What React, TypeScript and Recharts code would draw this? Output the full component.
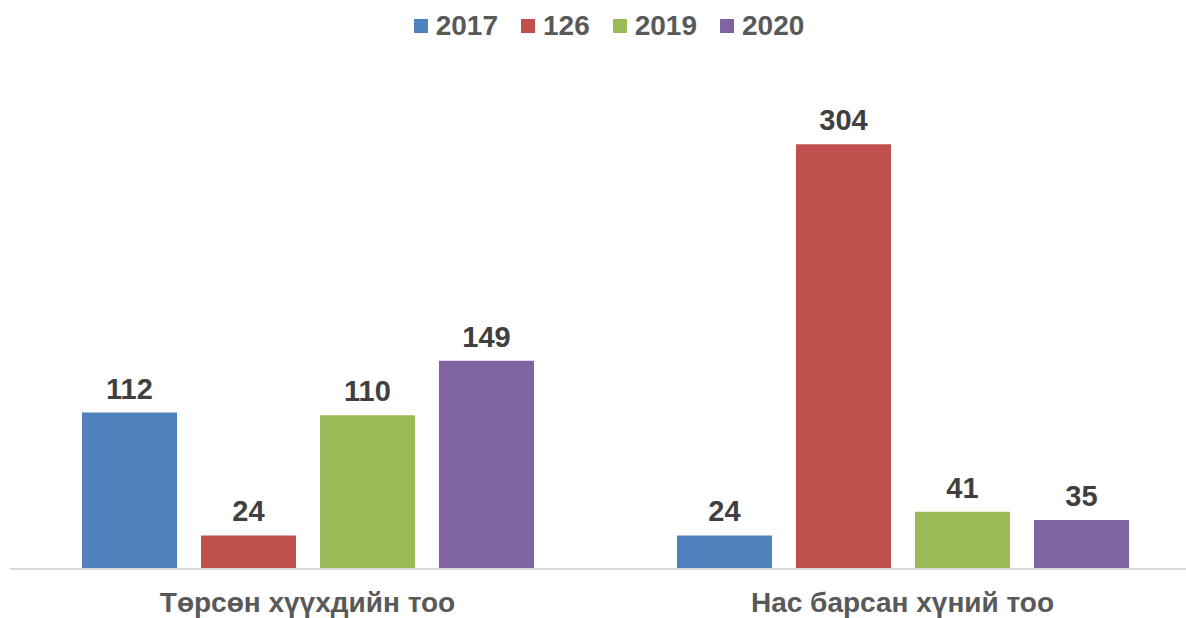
import { Bar, BarChart, LabelList, Legend, XAxis, YAxis } from 'recharts';

const categories = ['Төрсөн хүүхдийн тоо', 'Нас барсан хүний тоо'];
const seriesNames = ['2017', '126', '2019', '2020'];
const values2017 = [112, 24];
const values126 = [24, 304];
const values2019 = [110, 41];
const values2020 = [149, 35];

const colors = ['#4F81BD', '#C0504D', '#9BBB59', '#8064A2'];
const seriesValues = [values2017, values126, values2019, values2020];

const data = categories.map((name, i) => {
  const row: Record<string, string | number> = { name };
  seriesNames.forEach((s, j) => {
    row[s] = seriesValues[j][i];
  });
  return row;
});

const font = '"Liberation Sans", Arial, sans-serif';

const LegendBox = () => (
  <div
    style={{
      height: 40,
      display: 'flex',
      justifyContent: 'center',
      alignItems: 'center',
      fontFamily: font,
      fontWeight: 700,
      fontSize: 28,
      color: '#595959',
    }}
  >
    {seriesNames.map((s, i) => (
      <div key={s} style={{ display: 'flex', alignItems: 'center', marginRight: i < seriesNames.length - 1 ? 23 : 0 }}>
        <span style={{ width: 14, height: 14, background: colors[i], marginRight: 8, display: 'inline-block' }} />
        <span>{s}</span>
      </div>
    ))}
  </div>
);

export default function App() {
  return (
    <div style={{ position: 'fixed', left: 0, top: 0, width: 1186, height: 618, overflow: 'hidden', background: '#fff' }}>
      <BarChart
        width={1200}
        height={618}
        data={data}
        margin={{ top: 40, right: 0, left: 10, bottom: 0 }}
        barGap={24}
        style={{ fontFamily: font }}
      >
        <Legend verticalAlign="top" align="center" wrapperStyle={{ top: 6, left: 0, width: 1218 }} content={() => <LegendBox />} />
        <XAxis
          dataKey="name"
          height={49}
          tickLine={false}
          tickSize={0}
          tickMargin={23}
          axisLine={{ stroke: '#D9D9D9', strokeWidth: 2 }}
          tick={{ fill: '#595959', fontSize: 28, fontWeight: 700 }}
        />
        <YAxis hide domain={[0, 350]} />
        {seriesNames.map((s, i) => (
          <Bar key={s} dataKey={s} fill={colors[i]} barSize={95} isAnimationActive={false}>
            <LabelList dataKey={s} position="top" offset={14} fill="#404040" fontSize={29} fontWeight={700} />
          </Bar>
        ))}
      </BarChart>
    </div>
  );
}
